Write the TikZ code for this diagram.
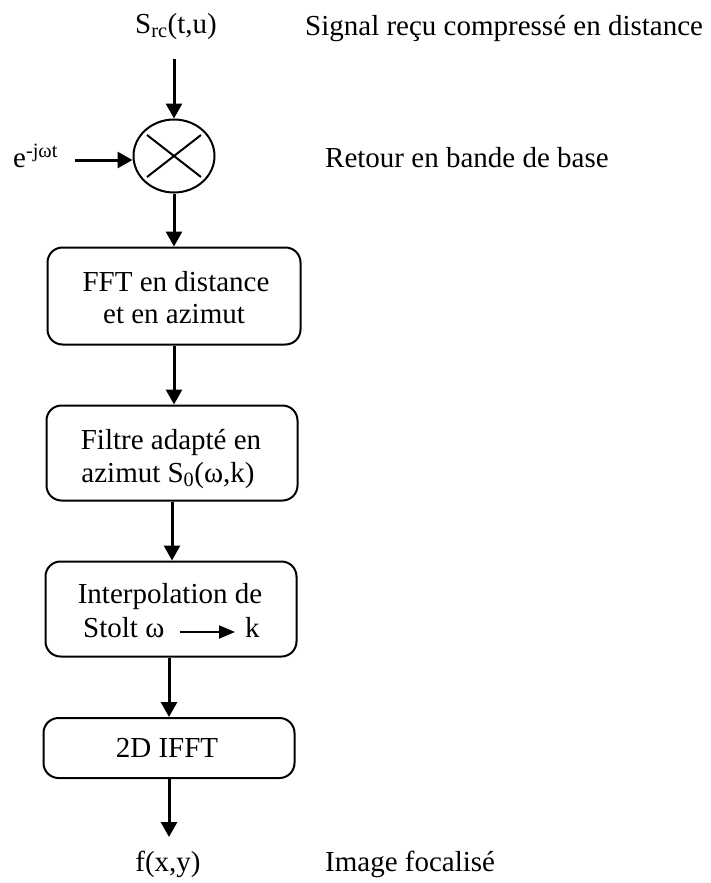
\documentclass[tikz,border=0pt]{standalone}
\usepackage{fontspec}
\setmainfont{Liberation Serif}
\usetikzlibrary{arrows.meta,shapes.geometric}

\begin{document}
\begin{tikzpicture}[x=1pt,y=-1pt,
  every node/.style={font=\fontsize{29}{33}\selectfont, inner sep=0pt},
  stage/.style={draw, line width=2pt, rounded corners=15pt, minimum height=97pt},
  txt/.style={anchor=base},
  flow/.style={line width=3pt, -{Triangle[length=15pt,width=16pt]}},
  thinflow/.style={line width=2pt, -{Triangle[length=16pt,width=13pt]}},
  mixer/.style={draw, ellipse, line width=2pt, minimum width=81pt, minimum height=73pt}]

\useasboundingbox (0,0) rectangle (710,883);

% input signal and mixer
\node[txt] (src) at (176,34) {S\textsubscript{rc}(t,u)};
\node[anchor=base west] (sig) at (305,36) {Signal reçu compressé en distance};
\node[mixer] (mult) at (174,156) {};
\draw[line width=2pt] ([shift={(-27,-21)}]mult.center) -- ([shift={(27,21)}]mult.center);
\draw[line width=2pt] ([shift={(-27,21)}]mult.center) -- ([shift={(27,-21)}]mult.center);
\node[anchor=base west] (osc) at (13,167) {e\textsuperscript{-jωt}};
\node[anchor=base west] (bb) at (325,167) {Retour en bande de base};
\coordinate (in1) at (174,59);
\coordinate (in2) at (75,160);
\draw[flow] (in1) -- (mult.north);
\draw[flow] (in2) -- (in2 -| mult.west);

% processing chain: frames
\node[stage, minimum width=253pt] (fft) at (174,296) {};
\node[stage, minimum width=251pt, minimum height=95pt] (filt) at (172,453) {};
\node[stage, minimum width=251pt, minimum height=95pt] (stolt) at (171,609) {};
\node[stage, minimum width=251pt, minimum height=60pt] (ifft) at (169,748) {};

% processing chain: texts
\node[txt] (fft1) at (176,291) {FFT en distance};
\node[txt] (fft2) at (174,323) {et en azimut};
\node[txt] (filt1) at (171,449) {Filtre adapté en};
\node[txt] (filt2) at (168,482) {azimut S\textsubscript{0}(ω,k)};
\node[txt] (interp) at (170,603) {Interpolation de};
\node[anchor=base west] (stw) at (83,637) {Stolt ω};
\node[anchor=base west] (kk) at (245,637) {k};
\draw[thinflow] ([xshift=15pt,yshift=5pt]stw.base east) -- ([xshift=-10pt,yshift=5pt]kk.base west);
\node[txt] (ifftt) at (167,757) {2D IFFT};

\draw[flow] (mult.south) -- (mult.south |- fft.north);
\draw[flow] (fft.south) -- (fft.south |- filt.north);
\draw[flow] (filt.south) -- (filt.south |- stolt.north);
\draw[flow] (ifft.north |- stolt.south) -- (ifft.north);

% output image
\coordinate (out) at (169,837);
\draw[flow] (ifft.south) -- (out);
\node[txt] (fxy) at (168,871) {f(x,y)};
\node[anchor=base west] (img) at (325,871) {Image focalisé};
\end{tikzpicture}
\end{document}
